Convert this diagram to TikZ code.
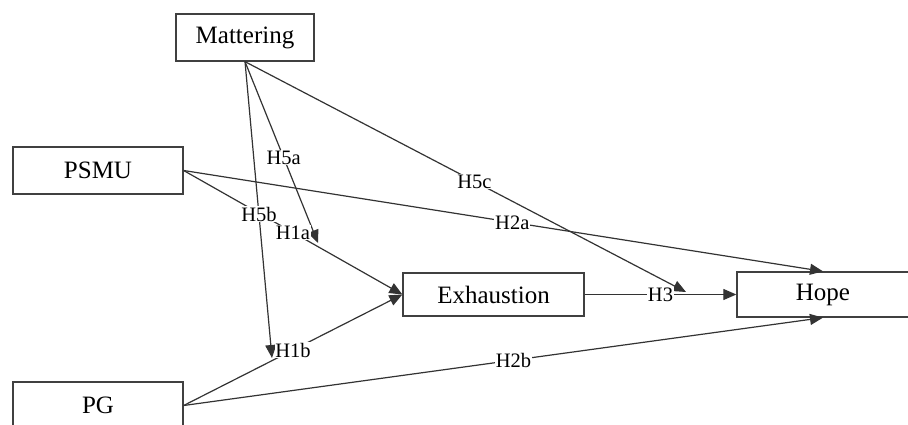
\documentclass[tikz,border=0pt]{standalone}
\usepackage{fontspec}
\setmainfont{Liberation Serif}
\usetikzlibrary{arrows.meta}
\begin{document}
\begin{tikzpicture}[x=1pt,y=-1pt,
  box/.style={draw=black!75,line width=1.3pt,fill=white,inner sep=0pt,font=\fontsize{25}{30}\selectfont},
  conn/.style={draw=black!80,line width=1.2pt},
  arr/.style={conn,-{Triangle[length=13pt,width=11pt]}},
  lab/.style={fill=white,inner sep=0.8pt,font=\fontsize{20.5}{24}\selectfont}]
\useasboundingbox (0,0) rectangle (908,425);
% boxes
\node[box,minimum width=138pt,minimum height=47pt] (M) at (245,37.5) {Mattering};
\node[box,minimum width=170pt,minimum height=47pt] (P) at (98,170.5) {PSMU};
\node[box,minimum width=170pt,minimum height=47pt] (G) at (98,405.5) {PG};
\node[box,minimum width=181pt,minimum height=43pt] (E) at (493.5,294.5) {Exhaustion};
\node[box,minimum width=172pt,minimum height=45pt] (Ho) at (823,294.5) {Hope};
% target points of moderation arrows
\coordinate (a1) at (318,243);
\coordinate (b1) at (272,358);
\coordinate (c1) at (686,292);
% connectors
\draw[arr] (P.east) -- (E.west);
\draw[arr] (G.east) -- (E.west);
\draw[arr] (P.east) -- (Ho.north);
\draw[arr] (G.east) -- (Ho.south);
\draw[arr] (E.east) -- (Ho.west);
\draw[arr] (M.south) -- (a1);
\draw[arr] (M.south) -- (b1);
\draw[arr] (M.south) -- (c1);
% labels
\path (P.east) -- (E.west) node[lab,pos=.5] {H1a};
\path (G.east) -- (E.west) node[lab,pos=.5] {H1b};
\path (P.east) -- (Ho.north) node[lab,pos=.514] {H2a};
\path (G.east) -- (Ho.south) node[lab,pos=.516] {H2b};
\path (E.east) -- (Ho.west) node[lab,pos=.5] {H3};
\path (M.south) -- (a1) node[lab,pos=.53] {H5a};
\path (M.south) -- (b1) node[lab,pos=.515] {H5b};
\path (M.south) -- (c1) node[lab,pos=.52] {H5c};
\end{tikzpicture}
\end{document}
